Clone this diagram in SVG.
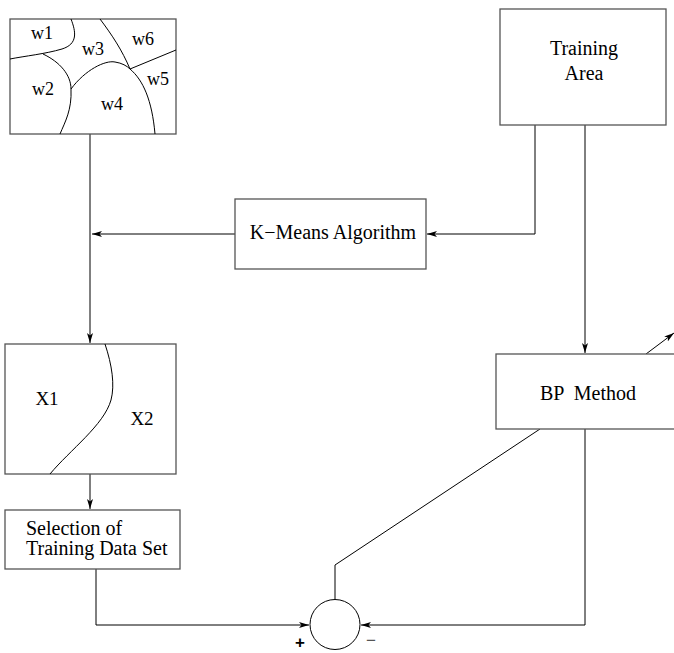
<svg xmlns="http://www.w3.org/2000/svg" width="674" height="653" viewBox="0 0 674 653">
<style>
.box{fill:#fff;stroke:#555;stroke-width:1.3}
.ln{fill:none;stroke:#000;stroke-width:1}
.cv{fill:none;stroke:#000;stroke-width:1}
.t{font-family:"Liberation Serif","Times New Roman",serif;font-size:20px;fill:#000}
.s{font-family:"Liberation Serif","Times New Roman",serif;font-size:18px;fill:#000}
.x{font-family:"Liberation Serif","Times New Roman",serif;font-size:19px;fill:#000}
</style>
<defs>
<marker id="ah" markerUnits="userSpaceOnUse" markerWidth="12" markerHeight="8" refX="10" refY="3" orient="auto" viewBox="0 0 12 8">
<path d="M0,0 L10,3 L0,6 L2.5,3 z" fill="#000"/>
</marker>
</defs>
<g id="connectors">
<line class="ln" x1="90" y1="134" x2="90" y2="343" marker-end="url(#ah)"/>
<line class="ln" x1="235" y1="234" x2="92" y2="234" marker-end="url(#ah)"/>
<polyline class="ln" points="535,125 535,234 427,234" marker-end="url(#ah)"/>
<line class="ln" x1="585" y1="125" x2="585" y2="353" marker-end="url(#ah)"/>
<line class="ln" x1="646" y1="354" x2="674" y2="333" marker-end="url(#ah)"/>
<line class="ln" x1="90" y1="474" x2="90" y2="509" marker-end="url(#ah)"/>
<polyline class="ln" points="96,569 96,625 309,625" marker-end="url(#ah)"/>
<polyline class="ln" points="585,429 585,625 361,625" marker-end="url(#ah)"/>
<polyline class="ln" points="540,429 335,565 335,599"/>
</g>
<g id="regions-map">
<rect class="box" x="10" y="19" width="166" height="115"/>
<path class="cv" d="M71,19 C76,32 78,44 62,49 C45,54 25,56 10,59"/>
<path class="cv" d="M43,54 C60,62 71,75 71,89 C72,110 65,122 60,134"/>
<path class="cv" d="M71,89 C85,70 105,60 115,62 C122,63 127,66 130,69"/>
<path class="cv" d="M100,19 C112,35 122,50 130,69"/>
<line class="cv" x1="130" y1="69" x2="176" y2="50"/>
<path class="cv" d="M130,69 C143,80 152,100 155,134"/>
<text class="s" x="42" y="39" text-anchor="middle">w1</text>
<text class="s" x="93" y="55" text-anchor="middle">w3</text>
<text class="s" x="143" y="45" text-anchor="middle">w6</text>
<text class="s" x="43" y="95" text-anchor="middle">w2</text>
<text class="s" x="158" y="85" text-anchor="middle">w5</text>
<text class="s" x="112" y="110" text-anchor="middle">w4</text>
</g>
<g id="training-area">
<rect class="box" x="500" y="9" width="166" height="116"/>
<text class="t" x="584" y="55" text-anchor="middle">Training</text>
<text class="t" x="584" y="80" text-anchor="middle">Area</text>
</g>
<g id="kmeans">
<rect class="box" x="235" y="199" width="191" height="70"/>
<text class="t" x="333" y="239" text-anchor="middle">K−Means Algorithm</text>
</g>
<g id="classes-map">
<rect class="box" x="5" y="344" width="171" height="130"/>
<path class="cv" d="M105,344 C112,365 115,385 111,400 C104,425 70,450 50,474"/>
<text class="x" x="47" y="405" text-anchor="middle">X1</text>
<text class="x" x="142" y="425" text-anchor="middle">X2</text>
</g>
<g id="selection">
<rect class="box" x="5" y="510" width="175" height="59"/>
<text class="t" x="26" y="535">Selection of</text>
<text class="t" x="26" y="555">Training Data Set</text>
</g>
<g id="bp-method">
<rect class="box" x="496" y="354" width="184" height="75"/>
<text class="t" x="588" y="400" text-anchor="middle" xml:space="preserve">BP  Method</text>
</g>
<g id="comparator">
<circle cx="335" cy="624.5" r="25" fill="#fff" stroke="#000" stroke-width="1"/>
<text x="300" y="648" text-anchor="middle" style="font-family:'Liberation Sans',Arial,sans-serif;font-size:17px;font-weight:bold">+</text>
<text x="371" y="646" text-anchor="middle" style="font-family:'Liberation Sans',Arial,sans-serif;font-size:17px;fill:#555">−</text>
</g>
</svg>
